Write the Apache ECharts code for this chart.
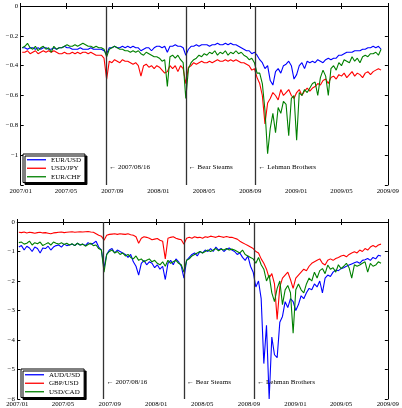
<!DOCTYPE html>
<html>
<head>
<meta charset="utf-8">
<script src="https://cdn.jsdelivr.net/npm/echarts@6/dist/echarts.min.js"></script>
<style>
  html, body { margin: 0; padding: 0; background: #fff; }
  #chart { width: 402px; height: 408px; }
</style>
</head>
<body>
<div id="chart"></div>
<script>
// weekly readings (Fridays) starting 2007-01-05
var startDay = [2007, 0, 5];
var weekCount = 137;

var monthTicks = ['2007-01-01', '2007-05-01', '2007-09-01', '2008-01-01', '2008-05-01',
                  '2008-09-01', '2009-01-01', '2009-05-01', '2009-09-01'];

var events = ['2007-08-16', '2008-03-14', '2008-09-15'];
var eventNames = ['\u2190 2007/08/16', '\u2190 Bear Steams', '\u2190 Lehman Brothers'];

// top panel
var eurusd = [
  -0.28,-0.28,-0.29,-0.28,-0.28,-0.29,-0.28,-0.29,-0.28,-0.28,
  -0.29,-0.29,-0.28,-0.29,-0.28,-0.28,-0.27,-0.28,-0.28,-0.29,
  -0.29,-0.29,-0.28,-0.29,-0.29,-0.29,-0.28,-0.29,-0.29,-0.29,
  -0.29,-0.30,-0.32,-0.28,-0.28,-0.27,-0.28,-0.28,-0.27,-0.28,
  -0.27,-0.28,-0.27,-0.28,-0.28,-0.30,-0.29,-0.28,-0.28,-0.30,
  -0.28,-0.27,-0.27,-0.28,-0.27,-0.31,-0.27,-0.27,-0.26,-0.27,
  -0.27,-0.28,-0.33,-0.29,-0.27,-0.27,-0.26,-0.27,-0.26,-0.26,
  -0.26,-0.27,-0.26,-0.26,-0.25,-0.26,-0.26,-0.25,-0.26,-0.25,
  -0.26,-0.26,-0.27,-0.28,-0.29,-0.30,-0.30,-0.32,-0.31,-0.33,
  -0.36,-0.38,-0.42,-0.40,-0.50,-0.53,-0.44,-0.42,-0.45,-0.40,
  -0.39,-0.37,-0.40,-0.49,-0.46,-0.40,-0.38,-0.42,-0.37,-0.38,
  -0.37,-0.38,-0.36,-0.37,-0.38,-0.36,-0.35,-0.36,-0.35,-0.35,
  -0.33,-0.33,-0.32,-0.31,-0.31,-0.31,-0.30,-0.30,-0.30,-0.29,
  -0.29,-0.28,-0.28,-0.27,-0.28,-0.27,-0.29
];
var usdjpy = [
  -0.31,-0.31,-0.30,-0.32,-0.31,-0.30,-0.32,-0.31,-0.30,-0.31,
  -0.30,-0.31,-0.30,-0.31,-0.32,-0.32,-0.31,-0.32,-0.32,-0.31,
  -0.32,-0.31,-0.32,-0.31,-0.31,-0.32,-0.31,-0.32,-0.33,-0.33,
  -0.33,-0.35,-0.49,-0.37,-0.38,-0.36,-0.37,-0.38,-0.36,-0.37,
  -0.37,-0.38,-0.39,-0.38,-0.40,-0.47,-0.40,-0.39,-0.41,-0.40,
  -0.42,-0.40,-0.41,-0.43,-0.45,-0.44,-0.40,-0.42,-0.40,-0.44,
  -0.40,-0.42,-0.52,-0.41,-0.40,-0.38,-0.39,-0.38,-0.37,-0.38,
  -0.38,-0.37,-0.38,-0.37,-0.36,-0.37,-0.37,-0.36,-0.37,-0.36,
  -0.37,-0.36,-0.37,-0.38,-0.38,-0.39,-0.40,-0.43,-0.42,-0.48,
  -0.52,-0.60,-0.79,-0.65,-0.62,-0.58,-0.60,-0.63,-0.56,-0.60,
  -0.58,-0.56,-0.60,-0.62,-0.58,-0.56,-0.60,-0.57,-0.55,-0.57,
  -0.55,-0.54,-0.52,-0.53,-0.50,-0.49,-0.52,-0.48,-0.47,-0.49,
  -0.46,-0.47,-0.45,-0.48,-0.46,-0.44,-0.47,-0.45,-0.46,-0.48,
  -0.45,-0.44,-0.46,-0.44,-0.43,-0.42,-0.43
];
var eurchf = [
  -0.28,-0.27,-0.25,-0.28,-0.29,-0.27,-0.30,-0.28,-0.27,-0.29,
  -0.28,-0.31,-0.27,-0.29,-0.28,-0.28,-0.27,-0.26,-0.27,-0.27,
  -0.26,-0.27,-0.26,-0.25,-0.26,-0.27,-0.27,-0.28,-0.27,-0.28,
  -0.28,-0.29,-0.34,-0.29,-0.28,-0.27,-0.28,-0.29,-0.29,-0.30,
  -0.30,-0.31,-0.30,-0.31,-0.30,-0.32,-0.33,-0.31,-0.32,-0.33,
  -0.34,-0.34,-0.35,-0.37,-0.36,-0.54,-0.34,-0.33,-0.35,-0.33,
  -0.36,-0.38,-0.62,-0.42,-0.38,-0.36,-0.35,-0.33,-0.34,-0.32,
  -0.33,-0.31,-0.32,-0.30,-0.33,-0.31,-0.32,-0.30,-0.33,-0.31,
  -0.32,-0.30,-0.32,-0.31,-0.33,-0.34,-0.36,-0.35,-0.38,-0.45,
  -0.45,-0.52,-0.70,-0.99,-0.82,-0.72,-0.85,-0.68,-0.72,-0.64,
  -0.66,-0.87,-0.62,-0.60,-0.90,-0.58,-0.60,-0.56,-0.58,-0.55,
  -0.52,-0.51,-0.60,-0.48,-0.43,-0.47,-0.60,-0.42,-0.40,-0.43,
  -0.38,-0.40,-0.36,-0.37,-0.38,-0.34,-0.37,-0.35,-0.38,-0.34,
  -0.33,-0.34,-0.32,-0.32,-0.31,-0.33,-0.29
];

// bottom panel
var audusd = [
  -0.85,-0.80,-0.95,-0.82,-0.88,-1.00,-0.85,-0.90,-1.05,-0.88,
  -0.90,-0.82,-0.95,-0.85,-0.80,-0.78,-0.85,-0.75,-0.80,-0.78,
  -0.75,-0.80,-0.72,-0.78,-0.75,-0.80,-0.70,-0.75,-0.72,-0.65,
  -0.85,-0.95,-1.55,-1.10,-0.95,-0.90,-1.05,-0.95,-1.00,-1.05,
  -1.10,-1.20,-1.10,-1.35,-1.50,-1.80,-1.40,-1.30,-1.45,-1.35,
  -1.40,-1.55,-1.45,-1.60,-1.50,-1.95,-1.40,-1.30,-1.45,-1.25,
  -1.35,-1.50,-1.90,-1.30,-1.20,-1.10,-1.05,-1.15,-1.00,-1.05,
  -0.95,-1.00,-0.90,-1.00,-0.85,-0.95,-0.90,-1.00,-0.92,-0.88,
  -0.95,-1.00,-1.10,-1.05,-1.20,-1.30,-1.15,-1.50,-1.70,-2.20,
  -2.00,-2.60,-4.80,-3.50,-6.00,-3.90,-4.50,-4.60,-3.40,-3.20,
  -2.70,-2.90,-2.60,-2.70,-3.00,-2.80,-2.50,-2.60,-2.40,-2.25,
  -2.30,-2.10,-2.20,-2.00,-2.40,-1.90,-1.80,-1.85,-1.70,-1.63,
  -1.65,-1.58,-1.55,-1.50,-1.46,-1.42,-1.38,-1.35,-1.40,-1.30,
  -1.28,-1.24,-1.30,-1.20,-1.25,-1.13,-1.15
];
var gbpusd = [
  -0.35,-0.36,-0.34,-0.37,-0.35,-0.36,-0.38,-0.36,-0.35,-0.37,
  -0.36,-0.38,-0.40,-0.37,-0.36,-0.35,-0.34,-0.36,-0.35,-0.34,
  -0.33,-0.35,-0.34,-0.33,-0.34,-0.33,-0.32,-0.34,-0.35,-0.40,
  -0.45,-0.48,-0.62,-0.45,-0.42,-0.41,-0.40,-0.42,-0.40,-0.41,
  -0.42,-0.40,-0.43,-0.45,-0.50,-0.72,-0.55,-0.50,-0.52,-0.55,
  -0.60,-0.58,-0.56,-0.62,-0.65,-1.25,-0.55,-0.52,-0.50,-0.55,
  -0.58,-0.60,-0.75,-0.55,-0.52,-0.55,-0.50,-0.53,-0.52,-0.55,
  -0.50,-0.52,-0.48,-0.50,-0.52,-0.48,-0.50,-0.52,-0.49,-0.52,
  -0.52,-0.55,-0.58,-0.65,-0.70,-0.75,-0.80,-0.85,-0.90,-1.00,
  -1.05,-1.25,-1.40,-1.60,-1.90,-1.75,-2.10,-3.30,-2.20,-1.90,
  -1.80,-1.70,-1.95,-2.25,-1.90,-1.80,-1.70,-1.60,-1.65,-1.50,
  -1.40,-1.35,-1.30,-1.25,-1.40,-1.46,-1.30,-1.25,-1.30,-1.24,
  -1.20,-1.15,-1.13,-1.18,-1.10,-1.05,-1.01,-1.05,-0.95,-1.00,
  -0.90,-0.95,-0.85,-0.80,-0.85,-0.78,-0.75
];
var usdcad = [
  -0.70,-0.68,-0.75,-0.72,-0.65,-0.78,-0.70,-0.74,-0.68,-0.80,
  -0.75,-0.70,-0.78,-0.68,-0.72,-0.75,-0.70,-0.76,-0.72,-0.78,
  -0.74,-0.80,-0.72,-0.78,-0.75,-0.82,-0.76,-0.72,-0.80,-0.78,
  -0.90,-0.95,-1.70,-1.10,-1.00,-0.95,-1.05,-1.00,-1.10,-1.05,
  -1.15,-1.10,-1.20,-1.25,-1.15,-1.30,-1.25,-1.35,-1.30,-1.25,
  -1.35,-1.30,-1.40,-1.45,-1.35,-1.50,-1.30,-1.40,-1.35,-1.30,
  -1.40,-1.45,-1.70,-1.30,-1.25,-1.15,-1.10,-1.05,-1.00,-1.05,
  -1.00,-0.95,-1.00,-0.95,-0.90,-0.98,-0.92,-0.95,-0.90,-0.95,
  -0.92,-0.95,-1.00,-1.05,-0.95,-1.10,-1.15,-1.20,-1.25,-1.40,
  -1.20,-1.45,-1.60,-2.00,-1.80,-2.40,-2.70,-2.25,-2.00,-2.80,
  -2.30,-2.15,-2.40,-3.77,-2.30,-2.10,-2.30,-2.40,-2.10,-1.90,
  -2.00,-1.70,-1.90,-1.65,-1.58,-1.75,-1.46,-1.60,-1.55,-1.70,
  -1.45,-1.58,-1.50,-1.40,-1.55,-1.90,-1.45,-1.50,-1.46,-1.40,
  -1.35,-1.70,-1.40,-1.50,-1.46,-1.35,-1.40
];

var weeks = [];
for (var i = 0; i < weekCount; i++) {
    weeks.push(new Date(startDay[0], startDay[1], startDay[2] + 7 * i).getTime());
}

function toTime(s) {
    var p = s.split('-');
    return new Date(+p[0], +p[1] - 1, +p[2]).getTime();
}
function pairs(vals) {
    return vals.map(function(v, k) { return [weeks[k], v]; });
}

var FONT = 'Liberation Serif';
var tickTimes = monthTicks.map(toTime);
var xMin = tickTimes[0], xMax = tickTimes[tickTimes.length - 1];

function monthLabel(v) {
    var d = new Date(v);
    var m = d.getMonth() + 1;
    return d.getFullYear() + '/' + (m < 10 ? '0' + m : m);
}
function minusLabel(v) {
    if (v === 0) return '0';
    return '\u2212' + Math.abs(+v.toFixed(2));
}

function xAxisFor(grid, top) {
    return {
        type: 'value', gridIndex: grid, min: xMin, max: xMax,
        position: top ? 'top' : 'bottom',
        axisLine: { lineStyle: { color: '#000', width: 1 } },
        axisTick: { inside: true, length: 3, customValues: tickTimes, lineStyle: { color: '#000' } },
        axisLabel: {
            show: !top, customValues: tickTimes, formatter: monthLabel,
            fontFamily: FONT, fontSize: 6.8, color: '#000', margin: grid === 0 ? 3 : 2,
            showMinLabel: true, showMaxLabel: true
        },
        splitLine: { show: false }
    };
}
function yAxisFor(grid, right, min, interval, hide) {
    return {
        type: 'value', gridIndex: grid, min: min, max: 0, interval: interval,
        position: right ? 'right' : 'left',
        axisLine: { show: true, lineStyle: { color: '#000', width: 1 } },
        axisTick: { show: true, inside: true, length: 3, lineStyle: { color: '#000' } },
        axisLabel: {
            show: !right, fontFamily: FONT, fontSize: 6.8, color: '#000', margin: 2.5,
            formatter: function(v) { return v === hide ? '' : minusLabel(v); }
        },
        splitLine: { show: false }
    };
}

function line(name, vals, color, grid, marks, labelY) {
    var s = {
        name: name, type: 'line', xAxisIndex: grid * 2, yAxisIndex: grid * 2,
        data: pairs(vals), showSymbol: false, symbol: 'none',
        lineStyle: { color: color, width: 1.1 }, itemStyle: { color: color },
        animation: false, silent: true
    };
    if (marks) {
        s.markLine = {
            silent: true, symbol: 'none', animation: false,
            label: { show: false },
            lineStyle: { color: '#333', type: 'solid', width: 1.3 },
            data: events.map(function(e) { return { xAxis: toTime(e) }; })
        };
        s.markPoint = {
            silent: true, animation: false, symbol: 'circle', symbolSize: 0,
            label: {
                show: true, position: 'right', distance: 3, color: '#000',
                fontFamily: FONT, fontSize: 7, formatter: '{b}'
            },
            data: events.map(function(e, k) {
                return { name: eventNames[k], coord: [toTime(e), labelY] };
            })
        };
    }
    return s;
}

function legendFor(names, left, top) {
    return {
        data: names, orient: 'vertical', left: left, top: top,
        icon: 'rect', itemWidth: 19, itemHeight: 1.3, itemGap: 1,
        padding: [2, 4, 2, 4],
        backgroundColor: '#fff', borderColor: '#000', borderWidth: 1,
        shadowColor: '#000', shadowBlur: 0, shadowOffsetX: 2, shadowOffsetY: 2,
        textStyle: { fontFamily: FONT, fontSize: 7, lineHeight: 7.5, color: '#000' },
        selectedMode: false
    };
}

var chart = echarts.init(document.getElementById('chart'), null, { renderer: 'canvas' });
chart.setOption({
    backgroundColor: '#fff',
    animation: false,
    grid: [
        { left: 20.7, right: 10.3, top: 6, height: 179 },
        { left: 17.3, right: 10.3, top: 222, height: 177.3 }
    ],
    xAxis: [xAxisFor(0, false), xAxisFor(0, true), xAxisFor(1, false), xAxisFor(1, true)],
    yAxis: [
        yAxisFor(0, false, -1.2, 0.2, -1.2), yAxisFor(0, true, -1.2, 0.2, -1.2),
        yAxisFor(1, false, -6, 1, null), yAxisFor(1, true, -6, 1, null)
    ],
    legend: [
        legendFor(['EUR/USD', 'USD/JPY', 'EUR/CHF'], 23, 154),
        legendFor(['AUD/USD', 'GBP/USD', 'USD/CAD'], 21, 369)
    ],
    series: [
        line('EUR/USD', eurusd, '#0000ff', 0),
        line('USD/JPY', usdjpy, '#ff0000', 0),
        line('EUR/CHF', eurchf, '#008000', 0, true, -1.082),
        line('AUD/USD', audusd, '#0000ff', 1),
        line('GBP/USD', gbpusd, '#ff0000', 1),
        line('USD/CAD', usdcad, '#008000', 1, true, -5.44)
    ]
});
</script>
</body>
</html>
